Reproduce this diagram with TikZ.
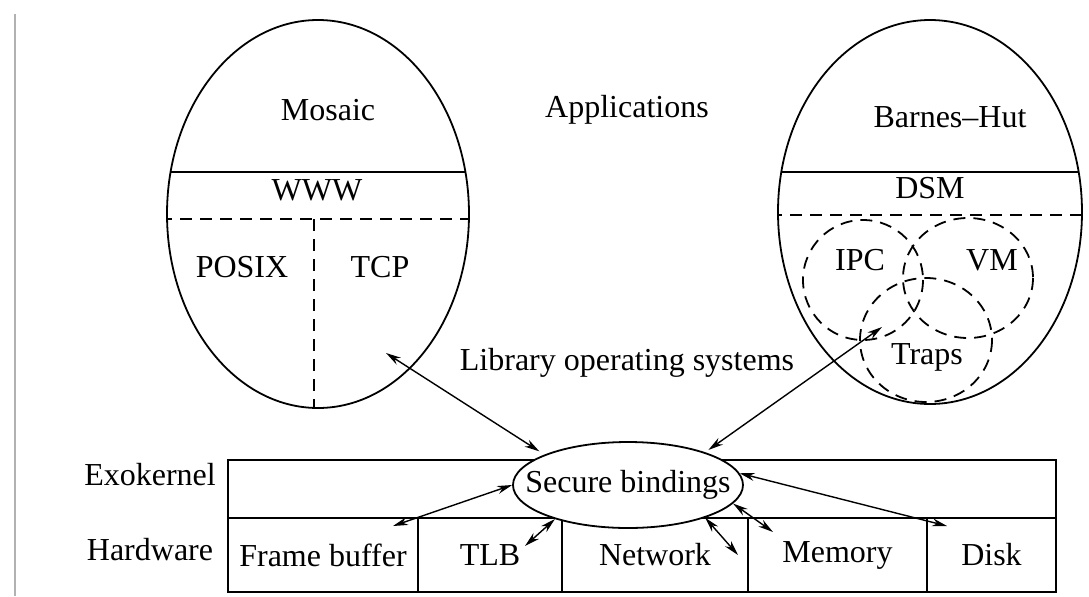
\documentclass[tikz,border=0pt]{standalone}
\usepackage{fontspec}
\setmainfont{Liberation Serif}
\usetikzlibrary{arrows.meta,shapes.geometric}

\begin{document}
\begin{tikzpicture}[x=0.5pt, y=-0.5pt, line width=0.9pt,
    font=\fontsize{16}{19}\selectfont,
    >={Stealth[length=7.5pt,width=4pt]},
    split/.style={dash pattern=on 6pt off 4pt},
    link/.style={<->, line width=0.7pt}]
        % \draw[help lines, gray!50, very thin] (0,0) grid[step=100] (1089,596);
        \useasboundingbox (0,0) rectangle (1089,596);
        \draw[gray!60, line width=1pt] (15,14) -- (15,596);

        % left library os
        \draw (318,214) ellipse [x radius=151, y radius=194];
        \begin{scope}
          \clip (318,214) ellipse [x radius=151, y radius=194];
          \draw (160,172) -- (480,172);
          \draw[split] (160,219) -- (480,219);
          \draw[split] (314,219) -- (314,420);
        \end{scope}
        \node (mosaic) at (328,110) {Mosaic};
        \node (www) at (317,190) {WWW};
        \node (posix) at (242,267) {POSIX};
        \node (tcp) at (380,267) {TCP};

        % right library os
        \draw (930,212) ellipse [x radius=152, y radius=192];
        \begin{scope}
          \clip (930,212) ellipse [x radius=152, y radius=192];
          \draw (770,172) -- (1090,172);
          \draw[split] (770,215) -- (1090,215);
        \end{scope}
        \draw[split] (863,280) ellipse [x radius=60, y radius=60];
        \draw[split] (968,278) ellipse [x radius=65, y radius=60];
        \draw[split] (926,340) ellipse [x radius=66, y radius=62];
        \node (barnes) at (950,117) {Barnes--Hut};
        \node (dsm) at (930,188) {DSM};
        \node (ipc) at (860,260) {IPC};
        \node (vm) at (992,260) {VM};
        \node (traps) at (927,357) {Traps};

        \node (apps) at (627,110) {Applications};
        \node (libos) at (627,363) {Library operating systems};

        % exokernel and hardware
        \node (exo) at (150,475) {Exokernel};
        \node (hw) at (150,550) {Hardware};
        \draw (228,460) rectangle (1056,518);
        \draw (228,518) rectangle node (fb) {Frame buffer} (418,592);
        \draw (418,518) rectangle node (tlb) {TLB} (562,592);
        \draw (562,518) rectangle node (net) {Network} (748,592);
        \draw (748,518) rectangle node (mem) {Memory} (927,592);
        \draw (927,518) rectangle node (disk) {Disk} (1056,592);

        \node[draw, ellipse, fill=white, inner sep=0pt,
              minimum width=115pt, minimum height=43pt] (sb) at (628,485) {};
        \node (sbtext) at (sb) {Secure bindings};

        \coordinate (mosend) at (386,353);
        \coordinate (bhend) at (882,327);
        \coordinate (fbend) at (393,526);
        \coordinate (tlbend) at (525,546);
        \coordinate (netend) at (738,555);
        \coordinate (memend) at (773,532);
        \coordinate (diskend) at (947,526);

        \draw[link, shorten >=3pt] (mosend) -- (sb.160);
        \draw[link, shorten >=2pt] (bhend) -- (sb.23);
        \draw[link] (sb.west) -- (fbend);
        \draw[link] (sb.205) -- (tlbend);
        \draw[link] (sb.-23) -- (netend);
        \draw[link] (sb.-10) -- (memend);
        \draw[link] (sb.6) -- (diskend);
      \end{tikzpicture}
\end{document}
